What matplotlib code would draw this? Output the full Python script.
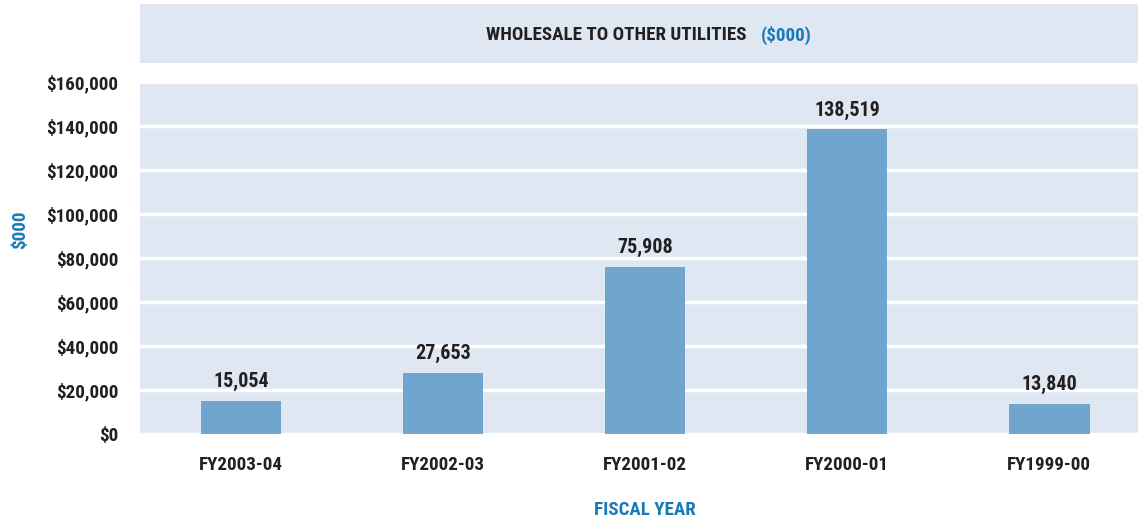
import matplotlib
matplotlib.use("Agg")
import matplotlib.pyplot as plt
from matplotlib.patches import Rectangle

plt.rcParams['font.family'] = ['Roboto Condensed', 'Liberation Sans Narrow', 'DejaVu Sans']
plt.rcParams['font.stretch'] = 'condensed'
plt.rcParams['font.weight'] = 'bold'

years = ["FY2003-04", "FY2002-03", "FY2001-02", "FY2000-01", "FY1999-00"]
values = [15054, 27653, 75908, 138519, 13840]
yticks = [0, 20000, 40000, 60000, 80000, 100000, 120000, 140000, 160000]

bg = "#dfe8f2"
bar_color = "#6fa5cf"
blue = "#1a7ab8"
dark = "#231f20"
fs = 13.7

fig = plt.figure(figsize=(11.38, 5.22), dpi=100)

# title band
fig.patches.append(Rectangle((140 / 1138, 1 - 63 / 522), 998 / 1138, 59 / 522,
                             transform=fig.transFigure, facecolor=bg, edgecolor="none"))
fig.text(746 / 1138, 1 - 35 / 522, "WHOLESALE TO OTHER UTILITIES", ha="right", va="center",
         fontsize=fs, fontweight="bold", color=dark)
fig.text(761 / 1138, 1 - 35 / 522, "($000)", ha="left", va="center",
         fontsize=fs, fontweight="bold", color=blue)

ax = fig.add_axes([140 / 1138, 88 / 522, 998 / 1138, 352 / 522])
ax.set_facecolor(bg)
x = list(range(len(years)))
ax.bar(x, values, width=0.4, color=bar_color, zorder=3)
for xi, v in zip(x, values):
    ax.annotate(f"{v:,}", (xi, v), xytext=(0, 7), textcoords="offset points",
                ha="center", va="bottom", fontsize=14.5, fontweight="bold", color=dark)

ax.set_xlim(-0.5, 4.44)
ax.set_ylim(0, 160000)
ax.set_yticks(yticks)
ax.set_yticklabels([f"${t:,}" for t in yticks])
ax.set_xticks(x)
ax.set_xticklabels(years)
ax.grid(axis="y", color="white", linewidth=2.5, zorder=1)
ax.set_axisbelow(True)
for s in ax.spines.values():
    s.set_visible(False)
ax.tick_params(axis="both", length=0, labelsize=fs, colors=dark)
ax.tick_params(axis="y", pad=15.5)
ax.tick_params(axis="x", pad=16)

fig.text(20 / 1138, 1 - 230 / 522, "$000", rotation=90, ha="center", va="center",
         fontsize=fs, fontweight="bold", color=blue)
fig.text(645 / 1138, 1 - 510 / 522, "FISCAL YEAR", ha="center", va="center",
         fontsize=fs, fontweight="bold", color=blue)

fig.savefig("out.png", dpi=100)
